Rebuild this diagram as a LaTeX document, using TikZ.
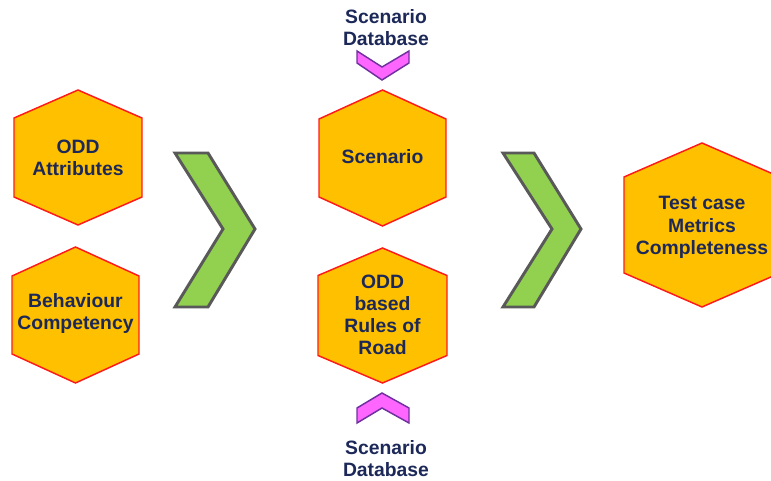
\documentclass[tikz,border=0pt]{standalone}
\usepackage{fontspec}
\setmainfont{Liberation Sans}
\definecolor{hexfill}{HTML}{FFC000}
\definecolor{hexline}{HTML}{FF1A1A}
\definecolor{navy}{RGB}{28,40,88}
\definecolor{chevgreen}{HTML}{92D050}
\definecolor{chevline}{HTML}{595959}
\definecolor{pinkfill}{HTML}{FF66FF}
\definecolor{pinkline}{HTML}{7030A0}
\tikzset{
  hexshape/.style={fill=hexfill,draw=hexline,line width=1.1pt,line join=miter},
  bigchev/.style={fill=chevgreen,draw=chevline,line width=2.2pt,line join=miter},
  smallchev/.style={fill=pinkfill,draw=pinkline,line width=1.1pt,line join=miter},
  label/.style={text=navy,font=\bfseries\fontsize{14.5pt}{16.5pt}\selectfont,align=center,inner sep=0pt}
}
\newcommand\myhex[5]{%
  \path[hexshape] (#1,{#2-#4}) -- ({#1+#3},{#2-#5}) -- ({#1+#3},{#2+#5}) -- (#1,{#2+#4})
    -- ({#1-#3},{#2+#5}) -- ({#1-#3},{#2-#5}) -- cycle;}
\begin{document}
\begin{tikzpicture}[x=0.75pt,y=-0.75pt]
\useasboundingbox (0,0) rectangle (771,481);
\clip (0,0) rectangle (771,481);
% hexagons
\myhex{78}{157.5}{64}{67.5}{39.5}
\myhex{75.5}{315}{63.5}{68}{39}
\myhex{382.5}{158}{63.5}{68}{39}
\myhex{382.5}{315.5}{64.5}{67.5}{40}
\myhex{702}{225}{78}{82}{48}
% green chevrons
\path[bigchev] (175,153) -- (208,153) -- (255,229) -- (208,307) -- (175,307) -- (223,229) -- cycle;
\path[bigchev] (503,153) -- (534,153) -- (581,229) -- (534,307) -- (503,307) -- (552,229) -- cycle;
% pink chevrons
\path[smallchev] (357,51) -- (357,63) -- (382,80) -- (409,63) -- (409,51) -- (382,67) -- cycle;
\path[smallchev] (357,423) -- (357,408) -- (382,393) -- (409,408) -- (409,423) -- (382,408) -- cycle;
% labels
\node[label] (odd) at (78,158) {ODD\\Attributes};
\node[label] (beh) at (75.5,314) {Behaviour\\Competency};
\node[label] (scen) at (382.5,157) {Scenario};
\node[label] (rules) at (382.5,315) {ODD\\based\\Rules of\\Road};
\node[label,font=\bfseries\fontsize{14.5pt}{17pt}\selectfont] (test) at (702,227.5) {Test case\\Metrics\\Completeness};
\node[label] (dbtop) at (386,28) {Scenario\\Database};
\node[label] (dbbot) at (386,459) {Scenario\\Database};
\end{tikzpicture}
\end{document}
